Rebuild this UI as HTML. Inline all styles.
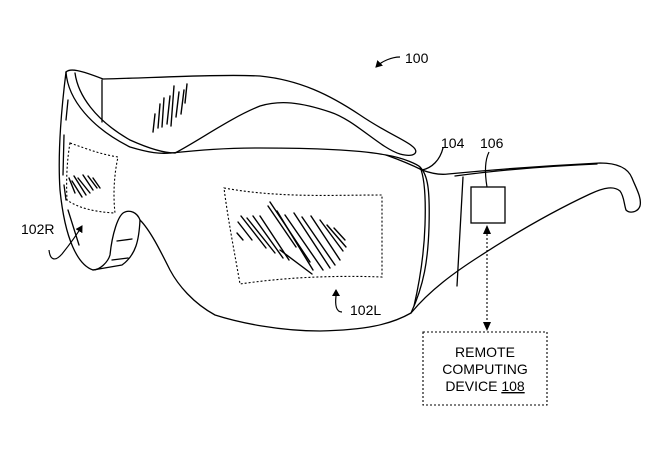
<!DOCTYPE html>
<html><head><meta charset="utf-8"><style>
html,body{margin:0;padding:0;background:#fff;}
svg{display:block;}
text{font-family:"Liberation Sans",Arial,sans-serif;fill:#000;}
</style></head><body>
<svg width="667" height="453" viewBox="0 0 667 453" xmlns="http://www.w3.org/2000/svg">
<defs>
<marker id="ah" markerWidth="8" markerHeight="8" refX="6" refY="4" orient="auto" markerUnits="userSpaceOnUse">
<path d="M0,0 L7,4 L0,8 z" fill="#000"/></marker>
</defs>
<g fill="none" stroke="#000" stroke-width="1.3" stroke-linejoin="round" stroke-linecap="round">
<!-- top band -->
<path d="M66,72 C70,68 80,70 103,79 C150,78 220,74 260,76 C300,80 330,95 360,115 C385,132 405,140 412,146 C420,152 415,158 400,154 C380,148 355,120 330,112 C300,102 280,100 260,106 C230,118 200,140 175,153"/>
<path d="M75,73 C78,95 95,120 130,140 C150,149 165,153 175,153"/>
<path d="M66,72 C68,100 92,128 130,147 C150,153 160,154 171,153"/>
<line x1="102" y1="80" x2="102" y2="122"/>
<!-- lens -->
<path d="M171,153 C200,150 225,148 260,148 C320,148 360,150 386,155 C405,158 418,165 420,167 C428,175 430,190 429,227 C428,260 424,285 411,313 C390,325 364,330 320,331 C280,331 240,323 215,315 C193,303 178,285 170,270 C160,250 150,230 140,220 C137,212 130,210 125,212 C118,214 112,235 110,255 C108,262 100,270 93,270 C78,265 65,240 60,190 C58,160 60,120 66,72"/>
<path d="M140,220 C139,240 136,255 122,265 L93,270"/>
<!-- side piece / temple -->
<path d="M386,155 C400,160 412,165 422,170 C430,173 440,175 448,174 C490,170 540,166 600,163 C618,163 628,168 632,178 C636,188 642,198 640,206 C638,212 630,214 626,210 C624,204 624,196 620,191 C614,186 605,187 590,194 C560,208 520,230 480,256 C455,272 430,290 411,313"/>
<path d="M455,176 C500,170 550,166 597,164"/>
<path d="M463,177 L457,286"/>
<path d="M420,167 C424,176 426,195 425,225 C424,255 420,280 414,306"/>
<path d="M422,170 C432,168 440,160 443,148"/>
<!-- nose strips -->
<line x1="117" y1="241" x2="132" y2="239"/>
<line x1="112" y1="260" x2="128" y2="258"/>
<!-- left edge dashes -->
<path d="M68,100 L66,120 M64,135 L63,175 M64,185 L66,200 M68,210 L79,245" />
</g>
<!-- dashed displays -->
<g fill="none" stroke="#000" stroke-width="1.1" stroke-dasharray="2,2">
<path d="M224,188 C280,198 330,195 382,195 L382,277 C330,275 280,278 240,284 C235,255 228,220 224,188 Z"/>
<path d="M70,143 C90,150 100,154 118,157 C114,175 113,195 115,213 C95,212 78,208 67,200 C66,180 67,160 70,143 Z"/>
<path d="M487,226 L487,330"/>
<rect x="423" y="332" width="124" height="73"/>
</g>
<path d="M483,234 L487,225 L491,234 Z M483,322 L487,331 L491,322 Z" fill="#000"/>
<!-- box 106 -->
<rect x="471" y="187" width="34" height="36" fill="none" stroke="#000" stroke-width="1.3"/>
<path d="M487,187 C485,175 484,162 489,152" fill="none" stroke="#000" stroke-width="1.2"/>
<!-- hatching -->
<g stroke="#000" stroke-width="1.4" stroke-linecap="round">
<line x1="237" y1="233" x2="243" y2="240"/>
<line x1="238" y1="222" x2="252" y2="240"/>
<line x1="241" y1="216" x2="266" y2="248"/>
<line x1="247" y1="218" x2="275" y2="253"/>
<line x1="253" y1="216" x2="283" y2="258"/>
<line x1="260" y1="216" x2="289" y2="260"/>
<line x1="268" y1="206" x2="296" y2="247"/>
<line x1="270" y1="202" x2="310" y2="262"/>
<line x1="277" y1="211" x2="313" y2="270"/>
<line x1="285" y1="215" x2="323" y2="270"/>
<line x1="294" y1="213" x2="330" y2="268"/>
<line x1="302" y1="217" x2="335" y2="265"/>
<line x1="311" y1="216" x2="340" y2="260"/>
<line x1="320" y1="220" x2="343" y2="251"/>
<line x1="327" y1="225" x2="346" y2="247"/>
<line x1="334" y1="228" x2="345" y2="240"/>
<line x1="280" y1="250" x2="312" y2="274"/>
<line x1="72" y1="181" x2="82" y2="197"/>
<line x1="74" y1="176" x2="86" y2="195"/>
<line x1="78" y1="178" x2="90" y2="193"/>
<line x1="83" y1="175" x2="93" y2="190"/>
<line x1="88" y1="176" x2="97" y2="188"/>
<line x1="93" y1="178" x2="100" y2="188"/>
<line x1="69" y1="178" x2="75" y2="193"/>
<line x1="153" y1="132" x2="155" y2="114"/>
<line x1="158" y1="128" x2="160" y2="104"/>
<line x1="162" y1="127" x2="164" y2="98"/>
<line x1="167" y1="124" x2="170" y2="96"/>
<line x1="171" y1="126" x2="174" y2="86"/>
<line x1="176" y1="117" x2="179" y2="92"/>
<line x1="181" y1="114" x2="184" y2="90"/>
<line x1="185" y1="103" x2="187" y2="84"/>
</g>
<!-- reference arrows -->
<g fill="none" stroke="#000" stroke-width="1.2">
<path d="M400,57 C392,57 382,61 376,67" marker-end="url(#ah)"/>
<path d="M49,250 C50,260 55,262 62,254 C70,244 76,236 82,226" marker-end="url(#ah)"/>
<path d="M342,312 C336,312 335,305 336,296 L336,290" marker-end="url(#ah)"/>
</g>
<!-- labels -->
<text x="405" y="63" font-size="14">100</text>
<text x="441" y="148" font-size="14">104</text>
<text x="480" y="148" font-size="14">106</text>
<text x="21" y="234" font-size="14">102R</text>
<text x="350" y="315" font-size="14">102L</text>
<text x="485" y="357" font-size="14" text-anchor="middle">REMOTE</text>
<text x="485" y="374" font-size="14" text-anchor="middle">COMPUTING</text>
<text x="485" y="391" font-size="14" text-anchor="middle">DEVICE <tspan text-decoration="underline">108</tspan></text>
</svg>
</body></html>
